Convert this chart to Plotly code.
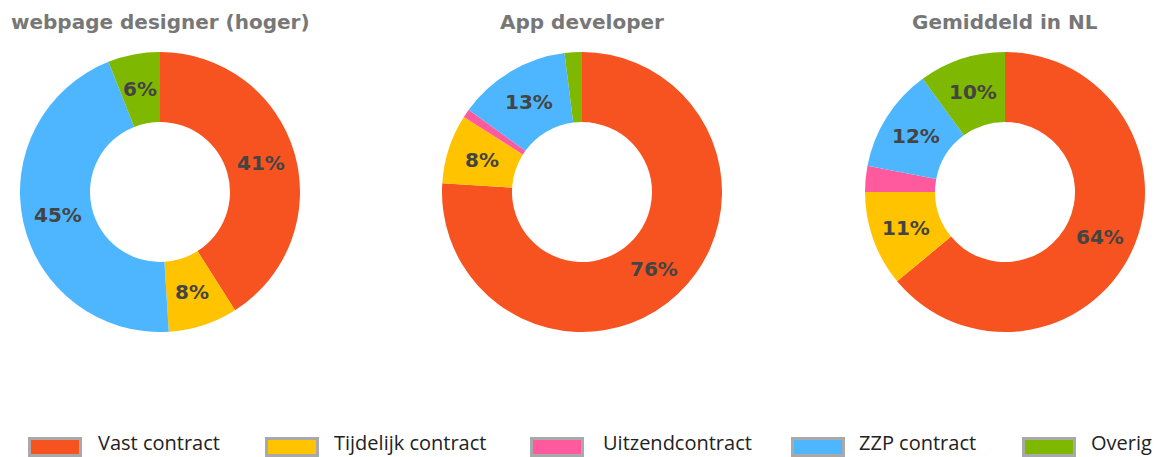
import math
import plotly.graph_objects as go

categories = ["Vast contract", "Tijdelijk contract", "Uitzendcontract", "ZZP contract", "Overig"]
colors = ["#f65320", "#ffc300", "#ff5a9d", "#4db6ff", "#7fb800"]

titles = ["webpage designer (hoger)", "App developer", "Gemiddeld in NL"]
webpage_designer = [41, 8, 0, 45, 6]
app_developer = [76, 8, 1, 13, 2]
gemiddeld_nl = [64, 11, 3, 12, 10]
series = [webpage_designer, app_developer, gemiddeld_nl]

W, H = 1160, 457
centers_px = [160, 582, 1005]
cy_px = 192
R = 140
HOLE = 0.5

fig = go.Figure()
for title, vals, cx in zip(titles, series, centers_px):
    fig.add_trace(go.Pie(
        labels=categories, values=vals, hole=HOLE, sort=False, direction="clockwise",
        rotation=0, marker=dict(colors=colors, line=dict(width=0)),
        textinfo="none", hoverinfo="label+percent", showlegend=False,
        domain=dict(x=[(cx - R) / W, (cx + R) / W],
                    y=[1 - (cy_px + R) / H, 1 - (cy_px - R) / H]),
    ))
    # percentage labels at the middle of each slice (derived from the values)
    total = sum(vals)
    cum = 0
    rm = R * (1 + HOLE) / 2
    for v in vals:
        mid = (cum + v / 2) / total * 2 * math.pi
        cum += v
        if v < 5:
            continue
        px = cx + rm * math.sin(mid)
        py = cy_px - rm * math.cos(mid)
        fig.add_annotation(x=px / W, y=1 - py / H, xref="paper", yref="paper",
                           text=f"<b>{v}%</b>", showarrow=False,
                           xanchor="center", yanchor="middle",
                           font=dict(family="DejaVu Sans", size=20, color="#444444"))
    fig.add_annotation(x=cx / W, y=1 - 22 / H, xref="paper", yref="paper",
                       text=f"<b>{title}</b>", showarrow=False,
                       font=dict(family="DejaVu Sans", size=20, color="#777777"),
                       xanchor="center", yanchor="middle")

# custom legend
swatch_x = [28, 265, 530, 791, 1022]
text_x = [97, 333, 602, 858, 1090]
sw_w, sw_top, sw_bot = 54, 437, 457
lw = 3
shapes = []
for cat, col, sx, tx in zip(categories, colors, swatch_x, text_x):
    x0 = sx + lw / 2
    x1 = sx + sw_w - lw / 2
    shapes.append(dict(type="rect", xref="paper", yref="paper",
                       x0=x0 / W, x1=x1 / W,
                       y0=1 - (sw_bot - lw / 2) / H, y1=1 - (sw_top + lw / 2) / H,
                       fillcolor=col, line=dict(color="#a9a9a9", width=lw)))
    fig.add_annotation(x=tx / W, y=0, xref="paper", yref="paper",
                       text=cat, showarrow=False, xanchor="left", yanchor="bottom",
                       borderpad=0,
                       font=dict(family="Open Sans", size=20, color="#222222"))

fig.update_layout(width=W, height=H, margin=dict(l=0, r=0, t=0, b=0),
                  paper_bgcolor="white", plot_bgcolor="white", shapes=shapes)
fig.write_html("out.html", config={"displayModeBar": False},
               post_script="document.body.style.margin='0';document.body.style.overflow='hidden';")
